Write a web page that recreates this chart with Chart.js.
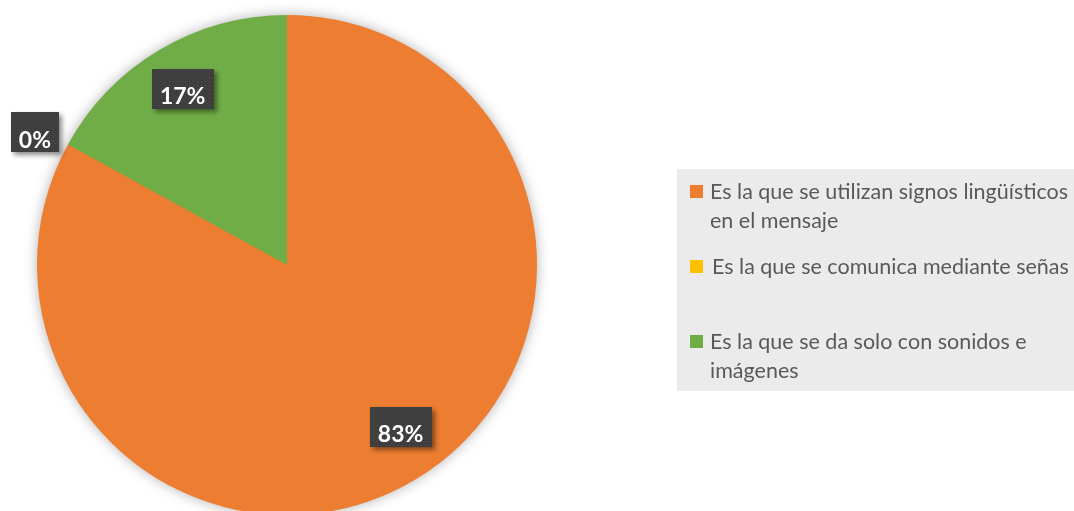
<!DOCTYPE html>
<html><head><meta charset="utf-8">
<script src="https://cdn.jsdelivr.net/npm/chart.js@4/dist/chart.umd.min.js"></script>
<style>
html,body{margin:0;padding:0;background:#fff;overflow:hidden;}
#wrap{width:1074px;height:511px;overflow:hidden;position:relative;}
#c{display:block;}
</style></head><body>
<div id="wrap"><canvas id="c" width="1074" height="530"></canvas></div>
<script>
const categories = [
  ["Es la que se utilizan signos lingüísticos", "en el mensaje"],
  ["Es la que se comunica mediante señas"],
  ["Es la que se da solo con sonidos e", "imágenes"]
];
const values = [83, 0, 17];
const percentLabels = ["83%", "0%", "17%"];
const colors = ["#ED7D31", "#FFC000", "#70AD47"];

function makePattern(ctx){
  const p = document.createElement('canvas'); p.width = 4; p.height = 4;
  const g = p.getContext('2d');
  g.fillStyle = '#3d3d3d'; g.fillRect(0,0,4,4);
  g.fillStyle = '#565656'; g.fillRect(1,1,1,1);
  g.fillStyle = '#474747'; g.fillRect(3,3,1,1);
  return ctx.createPattern(p,'repeat');
}

const shadowPlugin = {
  id:'pieShadow',
  beforeDatasetsDraw(chart){
    const arc = chart.getDatasetMeta(0).data[0];
    if(!arc) return;
    const ctx = chart.ctx;
    ctx.save();
    ctx.shadowColor = 'rgba(0,0,0,0.35)';
    ctx.shadowBlur = 14;
    ctx.beginPath();
    ctx.arc(arc.x, arc.y, arc.outerRadius-1, 0, Math.PI*2);
    ctx.fillStyle = '#ED7D31';
    ctx.fill();
    ctx.restore();
  }
};

const labelPlugin = {
  id:'boxLabels',
  afterDatasetsDraw(chart, args, opts){
    const ctx = chart.ctx;
    const meta = chart.getDatasetMeta(0);
    const pat = makePattern(ctx);
    ctx.save();
    ctx.font = 'bold 23px Lato, "Open Sans", sans-serif';
    ctx.textAlign = 'center';
    ctx.textBaseline = 'middle';
    meta.data.forEach((arc, i) => {
      const mid = (arc.startAngle + arc.endAngle)/2 + (opts.angleShift[i]||0)*Math.PI/180;
      const r = arc.outerRadius * opts.radial[i];
      const cx = arc.x + Math.cos(mid)*r;
      const cy = arc.y + Math.sin(mid)*r;
      const text = percentLabels[i];
      const w = ctx.measureText(text).width + 16;
      const h = 40;
      ctx.save();
      ctx.shadowColor = 'rgba(0,0,0,0.45)';
      ctx.shadowBlur = 5; ctx.shadowOffsetX = 3; ctx.shadowOffsetY = 3;
      ctx.fillStyle = pat;
      ctx.fillRect(Math.round(cx - w/2), Math.round(cy - h/2), Math.round(w), h);
      ctx.restore();
      ctx.fillStyle = '#ffffff';
      ctx.fillText(text, cx, cy + 8);
    });
    ctx.restore();
  }
};

const legendPlugin = {
  id:'sideLegend',
  afterDraw(chart){
    const ctx = chart.ctx;
    ctx.save();
    ctx.fillStyle = '#ebebeb';
    ctx.fillRect(677, 169, 420, 222);
    ctx.font = '21.5px Lato, "Open Sans", sans-serif';
    ctx.textBaseline = 'middle';
    ctx.textAlign = 'left';
    const itemY = [192, 267, 342];
    categories.forEach((lines, i) => {
      ctx.fillStyle = colors[i];
      ctx.fillRect(690, itemY[i]-7, 13, 13);
      ctx.fillStyle = '#595959';
      lines.forEach((t, j) => {
        ctx.fillText(t, i===1 ? 712 : 710, itemY[i] + j*29);
      });
    });
    ctx.restore();
  }
};

new Chart(document.getElementById('c'), {
  type:'pie',
  data:{
    labels: categories.map(l => l.join(' ')),
    datasets:[{ data: values, backgroundColor: colors, borderWidth:0, hoverOffset:0 }]
  },
  options:{
    responsive:false, animation:false,
    layout:{ padding:{ left:37, right:537, top:15, bottom:15 } },
    plugins:{
      legend:{ display:false }, tooltip:{ enabled:false },
      boxLabels:{ radial:[0.79, 1.14, 0.82], angleShift:[-4.5, -1, 0] }
    }
  },
  plugins:[shadowPlugin, labelPlugin, legendPlugin]
});
</script>
</body></html>
